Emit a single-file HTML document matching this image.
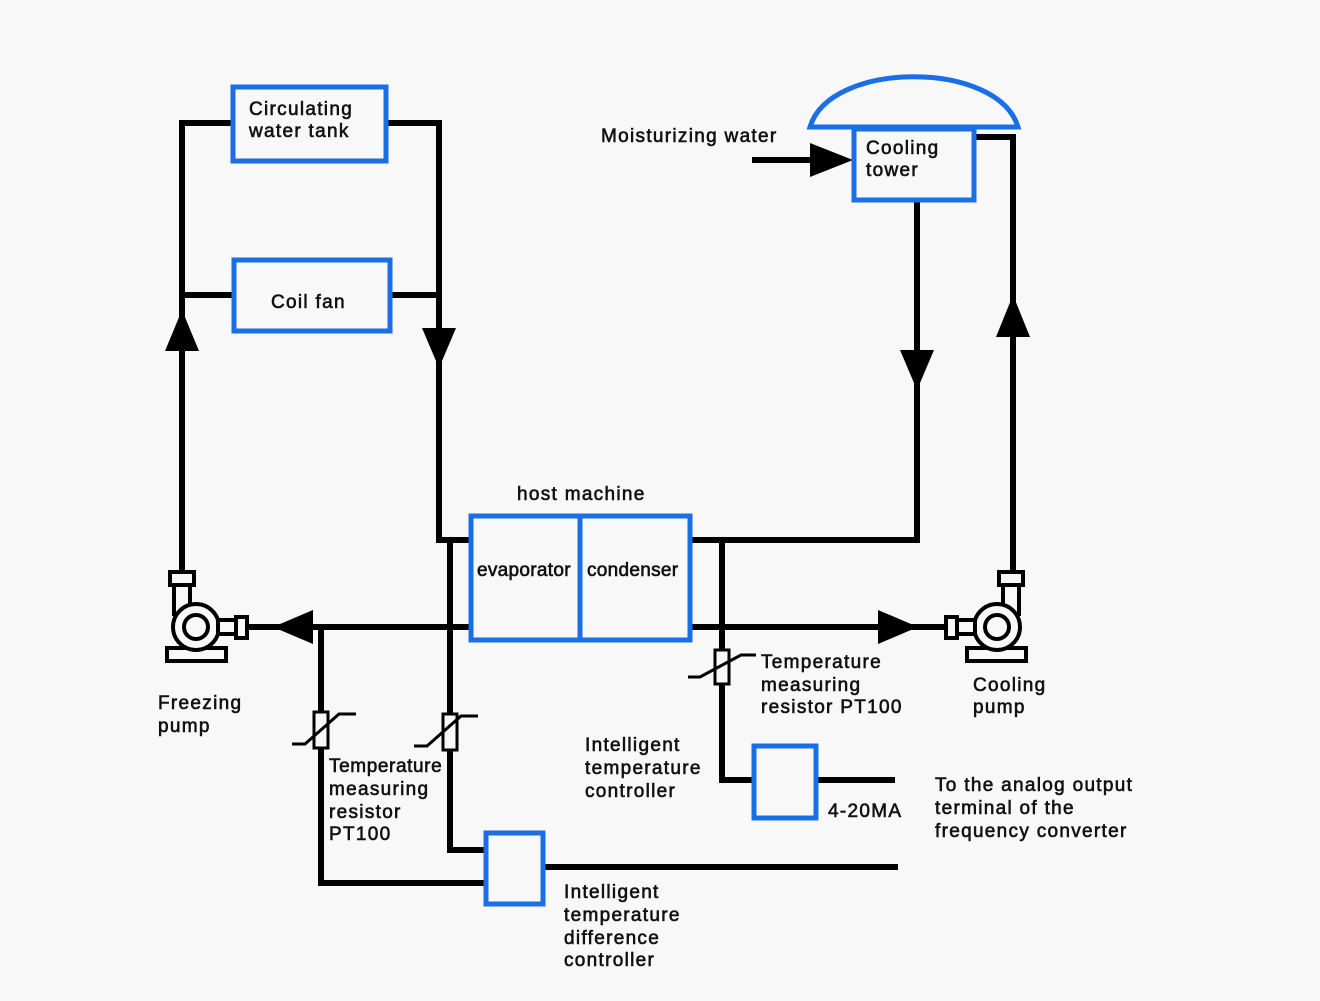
<!DOCTYPE html>
<html><head><meta charset="utf-8"><style>
html,body{margin:0;padding:0;background:#f8f8f8;}
svg{display:block}
text{font-family:"Liberation Sans",sans-serif;font-size:19px;letter-spacing:1.3px;fill:#111;stroke:#111;stroke-width:0.6px}
</style></head><body>
<svg width="1320" height="1001" viewBox="0 0 1320 1001" xmlns="http://www.w3.org/2000/svg">
<g fill="none" stroke="#000" stroke-width="6">
<polyline points="233,123 182,123 182,575"/>
<line x1="182" y1="295" x2="234" y2="295"/>
<polyline points="386,123 439,123 439,540 470,540"/>
<line x1="390" y1="295" x2="439" y2="295"/>
<line x1="470" y1="627" x2="248" y2="627"/>
<polyline points="450,540 450,850 487,850"/>
<polyline points="321,627 321,883 487,883"/>
<line x1="543" y1="867" x2="898" y2="867"/>
<polyline points="690,540 917,540 917,200"/>
<line x1="690" y1="627" x2="957" y2="627"/>
<polyline points="722,540 722,780 754,780"/>
<line x1="816" y1="780" x2="895" y2="780"/>
<polyline points="1013,575 1013,137 975,137"/>
<line x1="752" y1="160" x2="815" y2="160"/>
</g>
<g fill="#000">
<polygon points="182,310 165,351 199,351"/>
<polygon points="439,368 422,328 456,328"/>
<polygon points="273,627 313,610 313,644"/>
<polygon points="918,627 878,610 878,644"/>
<polygon points="917,390 900,350 934,350"/>
<polygon points="1013,295 996,337 1030,337"/>
<polygon points="853,160 810,143 810,177"/>
</g>
<g fill="#f8f8f8" stroke="#000" stroke-width="3">
<rect x="314" y="712" width="14" height="36"/>
<rect x="443" y="714" width="14" height="36"/>
<rect x="715" y="650" width="14" height="34"/>
</g>
<g fill="none" stroke="#000" stroke-width="3">
<polyline points="292,744 305,744 339,714 356,714"/>
<polyline points="414,746 427,746 461,716 478,716"/>
<polyline points="688,677 700,677 741,655 756,655"/>
</g>
<g fill="#f8f8f8" stroke="#000" stroke-width="4">
<g id="p">
<rect x="167" y="648" width="59" height="13"/>
<rect x="174" y="584" width="16" height="30"/>
<rect x="170" y="572" width="24" height="13"/>
<circle cx="196" cy="627" r="23"/>
<circle cx="196" cy="627" r="12"/>
<rect x="218" y="620" width="18" height="14"/>
<rect x="236" y="617" width="11" height="21"/>
</g>
<use href="#p" transform="translate(1193,0) scale(-1,1)"/>
</g>
<g fill="none" stroke="#1a6fe6" stroke-width="5">
<rect x="233" y="87" width="153" height="74"/>
<rect x="234" y="260" width="156" height="71"/>
<rect x="471" y="516" width="219" height="124"/>
<line x1="580" y1="516" x2="580" y2="640"/>
<rect x="486" y="833" width="57" height="71"/>
<rect x="754" y="746" width="62" height="72"/>
<rect x="854" y="129" width="120" height="71"/>
<path d="M810,127 C830,60 998,60 1018,127 Z"/>
</g>
<text x="249" y="115">Circulating</text>
<text x="249" y="137">water tank</text>
<text x="271" y="308">Coil fan</text>
<text x="517" y="500">host machine</text>
<text x="477" y="576" style="letter-spacing:0.3px">evaporator</text>
<text x="587" y="576" style="letter-spacing:0.3px">condenser</text>
<text x="601" y="142">Moisturizing water</text>
<text x="866" y="154">Cooling</text>
<text x="866" y="176">tower</text>
<text x="158" y="709">Freezing</text>
<text x="158" y="732">pump</text>
<text x="329" y="772" style="letter-spacing:0.6px">Temperature</text>
<text x="329" y="795">measuring</text>
<text x="329" y="818">resistor</text>
<text x="329" y="840">PT100</text>
<text x="761" y="668">Temperature</text>
<text x="761" y="691">measuring</text>
<text x="761" y="713">resistor PT100</text>
<text x="973" y="691">Cooling</text>
<text x="973" y="713">pump</text>
<text x="585" y="751">Intelligent</text>
<text x="585" y="774">temperature</text>
<text x="585" y="797">controller</text>
<text x="828" y="817">4-20MA</text>
<text x="935" y="791">To the analog output</text>
<text x="935" y="814">terminal of the</text>
<text x="935" y="837">frequency converter</text>
<text x="564" y="898">Intelligent</text>
<text x="564" y="921">temperature</text>
<text x="564" y="944">difference</text>
<text x="564" y="966">controller</text>
</svg>
</body></html>
